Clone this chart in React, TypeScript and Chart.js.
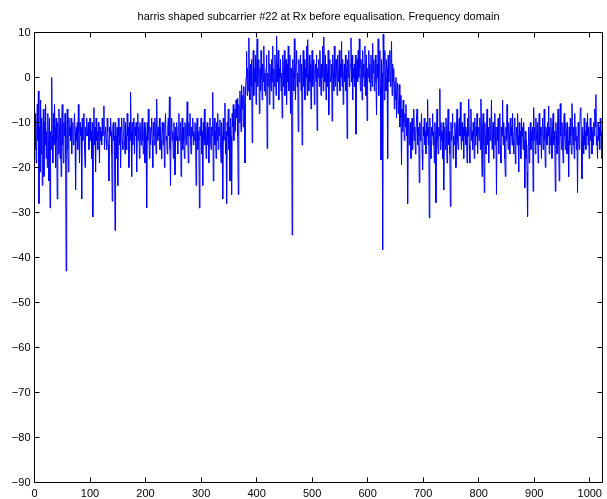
import React, { useEffect, useRef } from 'react';
import { Chart, registerables } from 'chart.js';

Chart.register(...registerables);

const TITLE = 'harris shaped subcarrier #22 at Rx before equalisation. Frequency domain';
const xTicks = [0, 100, 200, 300, 400, 500, 600, 700, 800, 900, 1000];
const yTicks = [10, 0, -10, -20, -30, -40, -50, -60, -70, -80, -90];
const X_MIN = 0;
const X_MAX = 1023;
const Y_MIN = -90;
const Y_MAX = 10;

// magnitude (dB) per subcarrier bin (32 bins per row)
const magnitudeDb = [
  -10, -16, -8, -19, -12, -6, -14, -3, -28, -11, -21, -5, -17, -9, -24, -13, -7, -22, -10, -15, -6, -18, -12, -20, -8, -14, -23, -9, -29, -12, -16, 0,
  -13, -19, -8, -15, -6, -11, -20, -9, -14, -27, -10, -17, -7, -12, -18, -9, -22, -11, -6, -15, -19, -10, -13, -8, -17, -43, -12, -7, -16, -21, -9, -13,
  -11, -14, -9, -17, -12, -10, -15, -13, -8, -12, -25, -11, -14, -10, -16, -6, -12, -19, -10, -13, -11, -27, -9, -14, -12, -8, -15, -20, -11, -13, -9, -12,
  -13, -10, -16, -11, -9, -14, -12, -18, -10, -31, -13, -6.7, -15, -11, -21, -9, -14, -12, -16, -10, -13, -19, -11, -14, -12, -15, -9, -13, -11, -6.3, -16, -12,
  -11, -14, -16, -9, -12, -15, -23, -11, -13, -9, -12, -17, -27.5, -11, -10, -14, -13, -34, -10, -13, -18, -11, -24, -9, -13, -15, -11, -20, -12, -9, -14, -16,
  -12, -9, -14, -17, -10, -13, -16, -8, -13, -11, -20, -10, -14, -3.3, -12, -22, -10, -15, -12, -9, -17, -11, -13, -10, -21, -12, -8, -14, -11, -18, -10, -13,
  -15, -11, -9, -14, -17, -12, -10, -19, -11, -13, -29, -10, -14, -7, -12, -18, -11, -15, -12, -9, -14, -20, -10, -13, -15, -9, -13, -17, -4.8, -12, -14, -11,
  -13, -9, -16, -11, -14, -18, -10, -12, -15, -10, -20, -11, -8, -14, -13, -17, -11, -9, -13, -4.3, -16, -24, -11, -9, -14, -12, -18, -10, -13, -21.6, -11, -14,
  -10, -13, -17, -11, -8, -14, -12, -10, -22, -13, -9, -16, -11, -14, -18, -10, -12, -15, -11, -5.4, -13, -19, -10, -13, -8, -14, -17, -11, -13, -9, -15, -12,
  -14, -10, -13, -24, -11, -9, -16, -12, -14, -29, -11, -13, -9, -17, -12, -24, -10, -14, -7, -15, -11, -18, -13, -10, -15, -11, -19, -12, -9, -14, -16, -11,
  -13, -3.3, -23, -11, -9, -15, -12, -18, -10, -14, -8, -16, -11, -13, -9.4, -15, -19, -10, -13, -27, -9, -14, -11, -5.7, -17, -12, -28, -10, -13, -7, -16, -11,
  -23, -9, -13, -26, -8, -11, -6, -14, -10, -7, -12, -5, -9, -4.7, -13, -26, -6, -10, -3, -8, -12, -1.7, -7, -4, -11, -2, -6, -19, -3, 0, 5.8, -4,
  2, -3, 8.8, 1, -5, 3, -2, 4, -14.5, 0, 6, -4, 2, -1, 5, -6, 3, 8.6, -2, 1, 4, -8, 2, -3, 6, 0, -5, 3, -1, 7, -3, 1,
  -4, 2, 5, -15.8, 1, -2, 6, -6, 3, 0, -3, 4, -1, 7, -7, 2, -2, 5, 1, -4, 9.2, 3, -1, 6, -5, 2, 0, 4, -3, 1, -9, 5,
  2, -2, 6, -4, 1, 4, -6, 3, -1, 7, -3, 0, 5, -8, 2, -2, -35, 4, 1, -3, 8.6, 0, -5, 3, 6, -2, 1, -12, 4, -1, 2, 5,
  -3, 3, -15, 1, 6, -2, 4, -5, 2, 0, 7, -4, 8.4, 1, -3, 5, -1, 3, -7, 2, 6, -2, 0, 4, -6, 1, 3, -1, 5, -11.8, 2, 0,
  4, -2, 6, 1, -4, 3, 0, 7, -3, 9, 2, -1, 5, -5, 3, 1, -2, 6, -8.3, 2, 4, -1, 0, 3, -9.7, 5, 1, -3, 7, 0, -2, 4,
  2, -4, 5, 1, -1, 6, -3, 3, 0, 8, -2, 4, -6, 1, 3, -1, 5, -3, 2, -13.6, 4, 0, 6, -2, 1, 3, 8.8, -1, 5, -5, 2, 0,
  3, -2, 5, -12.6, 1, 4, -1, 6, 0, 8.6, 2, -3, 4, 1, -5, 6, 0, 3, -2, 7, 1, -4, 5, -9.6, 2, 0, 6, -1, 3, -3, 5, 1,
  -2, 7.6, 1, 4, -3, 2, 5, -1, -8.3, 3, 0, 8.6, -4, 2, 6, -2, -18.3, 4, 1, -38.3, 9.6, 3, -5, 6, 0, -3, 4, 2, -18, 5, -1, 3,
  6, -2, 1, 8, -4, 3, -1, 2, -7, -1, -5, 0, -9, -3, -1.3, -8, -6, -1.6, -11, -4, -9, -19.4, -7, -12, -5, -10, -14, -8, -11, -6, -13, -9,
  -28, -12, -9, -15, -13, -10, -18, -13, -9, -16, -12, -7, -14, -11, -17, -13, -9, -7, -15, -11, -13, -23.4, -10, -14, -12, -8, -16, -20.5, -11, -13, -9, -15,
  -12, -17, -10, -13, -4.9, -15, -11, -31.2, -9, -14, -18, -11, -13, -8, -15, -12, -19, -10, -13, -27.8, -11, -7, -14, -17, -11, -13, -2.5, -16, -10, -14, -12, -18,
  -10, -25, -13, -11, -16, -9, -13, -19, -11, -7, -15, -12, -17, -28.7, -10, -14, -11, -8, -18, -13, -15, -10, -12, -20, -11, -7, -14, -16, -11, -9, -13, -5.5,
  -13, -16, -10, -14, -11, -18, -8, -13, -11, -15, -12, -19, -9, -13, -4.8, -15, -19, -11, -7, -14, -12, -16, -10, -13, -18, -9, -15, -11, -13, -8, -17, -12,
  -11, -14, -9, -16, -4.8, -13, -22, -11, -8, -15, -25.6, -10, -13, -17, -12, -7, -15, -11, -19, -13, -9, -14, -11, -5, -16, -12, -10, -18, -13, -8, -15, -11,
  -26, -11, -14, -9, -17, -12, -8, -15, -19, -11, -13, -5, -15, -10, -13, -18, -22, -11, -14, -6, -12, -16, -10, -13, -17, -9, -13, -11, -15, -8, -14, -17,
  -12, -9, -19.2, -13, -11, -15, -8, -13, -21, -10, -15, -12, -18, -9, -13, -11, -16, -10, -14, -24.5, -12, -18, -14, -21, -30.9, -15, -11, -19, -13, -10, -16, -12,
  -14, -11, -25.3, -6.7, -14, -11, -17, -9, -13, -15, -10, -19, -12, -8, -15, -11, -13, -18, -11, -9, -16, -13, -7, -14, -20, -11, -12, -15, -10, -13, -6.3, -17,
  -11, -15, -9, -13, -18, -11, -8, -15, -12, -14, -25.3, -10, -13, -17, -11, -7, -15, -23, -11, -5.8, -13, -16, -10, -14, -19, -11, -8, -13, -16, -10, -12, -17,
  -10, -14, -22, -11, -15, -9, -13, -17, -5.8, -12, -15, -11, -18, -8, -14, -11, -16, -13, -25.6, -10, -13, -16, -11, -7, -6.7, -14, -22.5, -11, -13, -17, -9, -15,
  -12, -16, -10, -13, -8, -15, -11, -18, -13, -9, -14, -11, -17, -12, -15, -10, -13, -7, -11, -3.8, -15, -13, -18, -10, -14, -11, -16, -9, -13, -12, -18, -17,
];

const FONT_FAMILY = '"Liberation Sans", Arial, Helvetica, sans-serif';
const fmt = (v: number) => String(v).replace('-', '\u2212');
const crisp = (v: number) => Math.floor(v) + 0.5;

const matlabAxes = {
  id: 'matlabAxes',
  afterDraw(chart: any) {
    const { ctx, chartArea: a, scales } = chart;
    const xs = scales.x;
    const ys = scales.y;
    const L = crisp(a.left), R = crisp(a.right), T = crisp(a.top), B = crisp(a.bottom);
    const TL = 5;
    ctx.save();
    ctx.strokeStyle = '#000';
    ctx.lineWidth = 1;
    ctx.beginPath();
    ctx.rect(L, T, R - L, B - T);
    for (const t of xTicks) {
      const px = crisp(xs.getPixelForValue(t));
      ctx.moveTo(px, B); ctx.lineTo(px, B - TL);
      ctx.moveTo(px, T); ctx.lineTo(px, T + TL);
    }
    for (const t of yTicks) {
      const py = crisp(ys.getPixelForValue(t));
      ctx.moveTo(L, py); ctx.lineTo(L + TL, py);
      ctx.moveTo(R, py); ctx.lineTo(R - TL, py);
    }
    ctx.stroke();
    ctx.fillStyle = '#000';
    ctx.font = `11px ${FONT_FAMILY}`;
    ctx.textAlign = 'center';
    ctx.textBaseline = 'middle';
    ctx.fillText(TITLE, (a.left + a.right) / 2, 17);
    ctx.restore();
  },
};

export default function App() {
  const ref = useRef<HTMLCanvasElement | null>(null);
  useEffect(() => {
    if (!ref.current) return;
    const chart = new Chart(ref.current, {
      type: 'line',
      data: {
        datasets: [
          {
            data: magnitudeDb.map((v, i) => ({ x: i, y: v })),
            borderColor: 'rgb(0,0,255)',
            borderWidth: 1,
            pointRadius: 0,
            tension: 0,
            fill: false,
          },
        ],
      },
      options: {
        animation: false,
        responsive: false,
        maintainAspectRatio: false,
        devicePixelRatio: 1,
        layout: { padding: { top: 32.5, right: 0.5, left: 0, bottom: 0 } },
        plugins: {
          legend: { display: false },
          title: { display: false },
          tooltip: { enabled: false },
        },
        scales: {
          x: {
            type: 'linear',
            min: X_MIN,
            max: X_MAX,
            grid: { display: false, drawTicks: false },
            border: { display: false },
            afterBuildTicks: (s: any) => {
              s.ticks = xTicks.map((v) => ({ value: v }));
            },
            afterFit: (s: any) => {
              s.height = 16.5;
            },
            ticks: {
              padding: 5,
              color: '#000',
              font: { family: FONT_FAMILY, size: 11 },
              maxRotation: 0,
              autoSkip: false,
              callback: (v: any) => fmt(Number(v)),
            },
          },
          y: {
            type: 'linear',
            min: Y_MIN,
            max: Y_MAX,
            grid: { display: false, drawTicks: false },
            border: { display: false },
            afterBuildTicks: (s: any) => {
              s.ticks = yTicks.map((v) => ({ value: v }));
            },
            afterFit: (s: any) => {
              s.width = 34.5;
            },
            ticks: {
              padding: 4,
              color: '#000',
              font: { family: FONT_FAMILY, size: 11 },
              autoSkip: false,
              callback: (v: any) => fmt(Number(v)),
            },
          },
        },
      },
      plugins: [matlabAxes],
    });
    return () => chart.destroy();
  }, []);
  return (
    <div style={{ position: 'fixed', left: 0, top: 0, width: 607, height: 499, background: '#fff' }}>
      <canvas ref={ref} width={607} height={499} style={{ display: 'block' }} />
    </div>
  );
}
